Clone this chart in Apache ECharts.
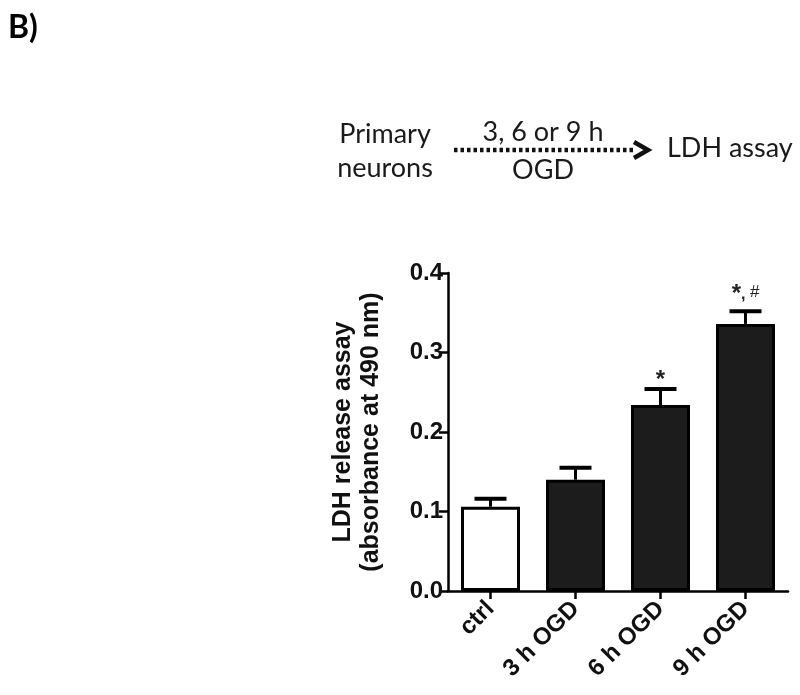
<!DOCTYPE html>
<html>
<head>
<meta charset="utf-8">
<script src="https://cdn.jsdelivr.net/npm/echarts@6/dist/echarts.min.js"></script>
<style>
  html, body { margin: 0; padding: 0; background: #fff; }
  #chart { width: 800px; height: 695px; }
</style>
</head>
<body>
<div id="chart"></div>
<script>
  // data
  const categories = ['ctrl', '3 h OGD', '6 h OGD', '9 h OGD']
  const means = [0.106, 0.140, 0.234, 0.336]
  const errTops = [0.116, 0.155, 0.254, 0.352]
  const marks = ['', '', '*', '*, #']
  const yTicks = [0, 0.1, 0.2, 0.3, 0.4]

  const myChart = echarts.init(document.getElementById('chart'))

  const axisFont = 'Liberation Sans, Arial, sans-serif'
  const noteFont = 'Lato, Open Sans, sans-serif'

  const option = {
    backgroundColor: '#fff',
    animation: false,
    grid: {
      left: 448,
      right: 12,
      top: 273,
      bottom: 104
    },
    // the little schematic above the plot + panel letter
    graphic: [
      { type: 'text', left: 8, top: 12, style: { text: 'B)', font: 'bold 32px ' + noteFont, fill: '#000' } },
      { type: 'text', x: 385, y: 134, style: { text: 'Primary', font: '27px ' + noteFont, fill: '#1a1a1a', align: 'center', verticalAlign: 'middle' } },
      { type: 'text', x: 385, y: 168, style: { text: 'neurons', font: '27px ' + noteFont, fill: '#1a1a1a', align: 'center', verticalAlign: 'middle' } },
      { type: 'text', x: 543, y: 132, style: { text: '3, 6 or 9 h', font: '27px ' + noteFont, fill: '#1a1a1a', align: 'center', verticalAlign: 'middle' } },
      { type: 'text', x: 543, y: 170, style: { text: 'OGD', font: '27px ' + noteFont, fill: '#1a1a1a', align: 'center', verticalAlign: 'middle' } },
      { type: 'text', x: 667, y: 148, style: { text: 'LDH assay', font: '27px ' + noteFont, fill: '#1a1a1a', align: 'left', verticalAlign: 'middle' } },
      { type: 'line', shape: { x1: 454, y1: 150, x2: 636, y2: 150 }, style: { stroke: '#111', lineWidth: 4.5, lineDash: [3.5, 3] } },
      { type: 'polyline', shape: { points: [[634, 142], [648, 150], [634, 158]] }, style: { stroke: '#111', lineWidth: 4.5, fill: null } }
    ],
    xAxis: {
      type: 'category',
      data: categories,
      axisLine: { show: true, lineStyle: { color: '#000', width: 2.5 } },
      axisTick: { show: true, alignWithLabel: true, length: 8, lineStyle: { color: '#000', width: 2.5 } },
      axisLabel: {
        rotate: 45,
        margin: 14,
        color: '#111',
        fontWeight: 'bold',
        fontSize: 24,
        fontFamily: axisFont
      }
    },
    yAxis: {
      type: 'value',
      min: 0,
      max: 0.4,
      interval: 0.1,
      name: 'LDH release assay\n(absorbance at 490 nm)',
      nameLocation: 'middle',
      nameRotate: 90,
      nameGap: 63,
      nameTextStyle: {
        color: '#111',
        fontWeight: 'bold',
        fontSize: 25,
        lineHeight: 28,
        fontFamily: axisFont
      },
      axisLine: { show: true, lineStyle: { color: '#000', width: 2.5 } },
      axisTick: { show: true, length: 9, lineStyle: { color: '#000', width: 2.5 } },
      splitLine: { show: false },
      axisLabel: {
        color: '#111',
        fontWeight: 'bold',
        fontSize: 24,
        margin: 5,
        fontFamily: axisFont,
        formatter: v => yTicks.indexOf(Math.round(v * 10) / 10) >= 0 ? v.toFixed(1) : ''
      }
    },
    series: [
      {
        type: 'bar',
        barWidth: 59,
        data: means.map((v, i) => ({
          value: v,
          itemStyle: { color: i === 0 ? '#fff' : '#1c1c1c' }
        })),
        itemStyle: { borderColor: '#000', borderWidth: 3 },
        z: 2
      },
      {
        // error bars (upper only) with significance marks
        type: 'custom',
        data: means.map((v, i) => [i, v, errTops[i]]),
        z: 3,
        renderItem: function (params, api) {
          const i = api.value(0)
          const base = api.coord([i, api.value(1)])
          const top = api.coord([i, api.value(2)])
          const children = [
            { type: 'line', shape: { x1: top[0], y1: base[1], x2: top[0], y2: top[1] }, style: { stroke: '#000', lineWidth: 3 } },
            { type: 'line', shape: { x1: top[0] - 16, y1: top[1], x2: top[0] + 16, y2: top[1] }, style: { stroke: '#000', lineWidth: 4 } }
          ]
          if (marks[i]) {
            const parts = marks[i].split(', ')
            const txt = parts.length > 1 ? '{s|*}{c|, }{h|#}' : '{s|*}'
            children.push({
              type: 'text',
              x: top[0],
              y: top[1] + (parts.length > 1 ? -6 : 2),
              style: {
                text: txt,
                align: 'center',
                verticalAlign: 'bottom',
                rich: {
                  s: { font: 'bold 24px ' + axisFont, fill: '#222', lineHeight: 22 },
                  c: { font: 'bold 16px ' + axisFont, fill: '#222', lineHeight: 22 },
                  h: { font: '17px ' + axisFont, fill: '#222', lineHeight: 22, padding: [0, 0, 4, 0] }
                }
              }
            })
          }
          return { type: 'group', children: children }
        }
      }
    ]
  }

  myChart.setOption(option)
</script>
</body>
</html>
